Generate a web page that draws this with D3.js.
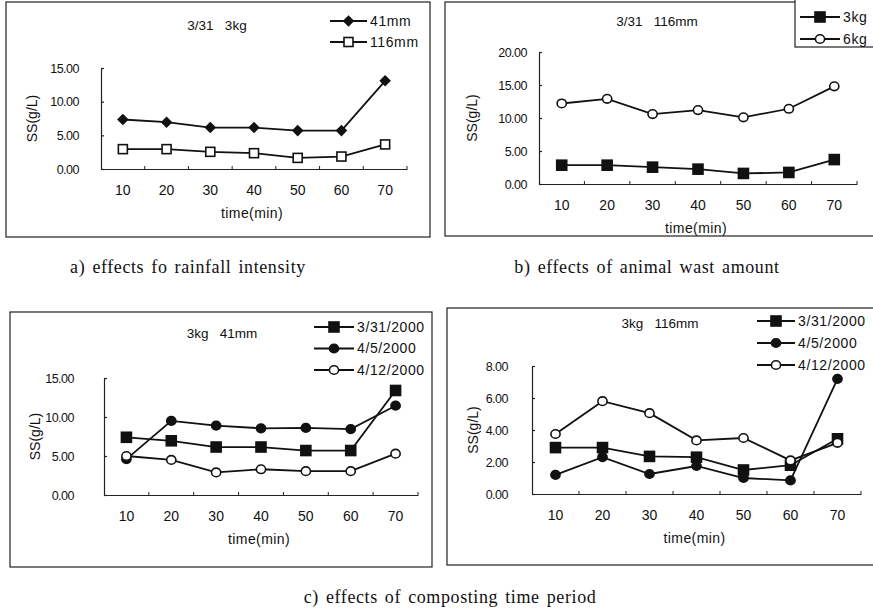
<!DOCTYPE html>
<html>
<head>
<meta charset="utf-8">
<script src="https://cdn.jsdelivr.net/npm/d3@7"></script>
<style>
  body { margin: 0; background: #fff; }
  svg { display: block; }
  text { fill: #111; }
</style>
</head>
<body>
<svg width="873" height="614"></svg>
<script>
// x categories (min)
var times = [10, 20, 30, 40, 50, 60, 70];

// a) 3/31 3kg
var a41mm  = [7.35, 6.95, 6.15, 6.15, 5.7, 5.7, 13.1];
var a116mm = [2.95, 2.95, 2.55, 2.35, 1.65, 1.85, 3.65];

// b) 3/31 116mm
var b3kg = [2.85, 2.85, 2.55, 2.25, 1.6, 1.75, 3.7];
var b6kg = [12.2, 12.9, 10.6, 11.2, 10.1, 11.4, 14.8];

// c) 3kg 41mm
var c0331 = [7.4, 6.95, 6.15, 6.15, 5.7, 5.7, 13.4];
var c0405 = [4.6, 9.5, 8.9, 8.55, 8.6, 8.45, 11.45];
var c0412 = [5.0, 4.5, 2.9, 3.3, 3.05, 3.05, 5.3];

// d) 3kg 116mm
var d0331 = [2.9, 2.9, 2.35, 2.3, 1.5, 1.8, 3.45];
var d0405 = [1.2, 2.3, 1.25, 1.75, 1.0, 0.85, 7.2];
var d0412 = [3.75, 5.8, 5.05, 3.35, 3.5, 2.1, 3.2];

// y tick values
var ticksA = [0, 5, 10, 15];
var ticksB = [0, 5, 10, 15, 20];
var ticksC = [0, 5, 10, 15];
var ticksD = [0, 2, 4, 6, 8];

// captions
var captionA = "a) effects fo rainfall intensity";
var captionB = "b) effects of animal wast amount";
var captionC = "c) effects of composting time period";

var svg = d3.select("svg");
var sans = "'Liberation Sans', Arial, sans-serif";
var serif = "'Liberation Serif', 'DejaVu Serif', serif";

// marker drawing
function marker(g, type, x, y) {
    if (type == "diamond") {
        g.append("path")
            .attr("d", d3.symbol().type(d3.symbolDiamond2).size(85)())
            .attr("transform", "translate(" + x + "," + y + ")")
            .attr("fill", "#111");
    } else if (type == "square" || type == "osquare") {
        var s = type == "square" ? 10 : 9;
        g.append("rect")
            .attr("x", x - s / 2).attr("y", y - s / 2)
            .attr("width", s).attr("height", s)
            .attr("fill", type == "square" ? "#111" : "#fff")
            .attr("stroke", "#111").attr("stroke-width", 1.6);
    } else if (type == "circle" || type == "ocircle") {
        g.append("ellipse")
            .attr("cx", x).attr("cy", y)
            .attr("rx", 4.6).attr("ry", 4.3)
            .attr("fill", type == "circle" ? "#111" : "#fff")
            .attr("stroke", "#111").attr("stroke-width", 1.6);
    }
}

function drawPanel(p) {
    var g = svg.append("g");

    // frame
    g.append("rect")
        .attr("x", p.box[0]).attr("y", p.box[1])
        .attr("width", p.box[2] - p.box[0]).attr("height", p.box[3] - p.box[1])
        .attr("fill", "none").attr("stroke", "#222").attr("stroke-width", 1.2);

    var x = d3.scaleBand().domain(times).range([p.x0, p.x1]).paddingInner(0);
    var y = d3.scaleLinear().domain([0, d3.max(p.ticks)]).range([p.y0, p.yTop]);

    // y axis
    var yAxis = g.append("g")
        .attr("transform", "translate(" + p.x0 + ",0)")
        .call(d3.axisLeft(y).tickValues(p.ticks).tickFormat(d3.format(".2f"))
            .tickSizeInner(-3).tickSizeOuter(0).tickPadding(p.labelGap));
    yAxis.selectAll("text").attr("font-family", sans).attr("font-size", 12.5)
        .attr("letter-spacing", -0.5).attr("fill", "#111");
    yAxis.selectAll("line, path").attr("stroke", "#222").attr("stroke-width", 1.2);

    // x axis
    var xAxis = g.append("g")
        .attr("transform", "translate(0," + p.y0 + ")")
        .call(d3.axisBottom(x).tickSize(0).tickSizeOuter(0).tickPadding(16));
    xAxis.selectAll("text").attr("font-family", sans).attr("font-size", 14).attr("fill", "#111");
    xAxis.select("path").attr("stroke", "#222").attr("stroke-width", 1.2);
    xAxis.selectAll(".bound")
        .data(times.slice(1).concat(["end"]))
        .enter().append("line")
        .attr("x1", function(d, i) { return p.x0 + x.bandwidth() * (i + 1); })
        .attr("x2", function(d, i) { return p.x0 + x.bandwidth() * (i + 1); })
        .attr("y1", 0).attr("y2", -3)
        .attr("stroke", "#222");

    // axis titles
    g.append("text")
        .attr("transform", "translate(" + p.yLabelX + "," + (p.y0 + p.yTop) / 2 + ") rotate(-90)")
        .attr("text-anchor", "middle").attr("dy", "0.35em")
        .attr("font-family", sans).attr("font-size", 14)
        .text("SS(g/L)");
    g.append("text")
        .attr("x", (p.x0 + p.x1) / 2 - 2).attr("y", p.y0 + 44)
        .attr("text-anchor", "middle").attr("dy", "0.35em")
        .attr("font-family", sans).attr("font-size", 14).attr("letter-spacing", 0.4)
        .text("time(min)");

    // chart title
    g.append("text")
        .attr("x", p.title[0]).attr("y", p.title[1])
        .attr("text-anchor", "middle").attr("dy", "0.35em")
        .attr("font-family", sans).attr("font-size", 13.5).attr("xml:space", "preserve")
        .text(p.title[2]);

    // series
    var line = d3.line()
        .x(function(d, i) { return x(times[i]) + x.bandwidth() / 2; })
        .y(function(d) { return y(d); });

    p.series.forEach(function(s) {
        g.append("path").datum(s.values)
            .attr("d", line)
            .attr("fill", "none").attr("stroke", "#111").attr("stroke-width", 1.8);
    });
    p.series.forEach(function(s) {
        s.values.forEach(function(v, i) {
            marker(g, s.type, x(times[i]) + x.bandwidth() / 2, y(v));
        });
    });

    // legend
    var L = p.legend;
    if (L.box) {
        g.append("rect")
            .attr("x", L.box[0]).attr("y", L.box[1])
            .attr("width", L.box[2] - L.box[0]).attr("height", L.box[3] - L.box[1])
            .attr("fill", "#fff").attr("stroke", "#222").attr("stroke-width", 1.2);
    }
    p.series.forEach(function(s, i) {
        var ly = L.y + i * L.step;
        g.append("line")
            .attr("x1", L.x).attr("x2", L.x + L.len)
            .attr("y1", ly).attr("y2", ly)
            .attr("stroke", "#111").attr("stroke-width", 1.8);
        marker(g, s.type, L.x + L.len / 2, ly);
        g.append("text")
            .attr("x", L.x + L.len + 3).attr("y", ly)
            .attr("dy", "0.35em")
            .attr("font-family", sans).attr("font-size", 14).attr("letter-spacing", 0.6)
            .text(s.name);
    });
}

drawPanel({
    box: [6, 2, 430, 237],
    x0: 101, x1: 407, y0: 169, yTop: 68, ticks: ticksA, labelGap: 22, yLabelX: 32,
    title: [217, 25, "3/31   3kg"],
    series: [
        { name: "41mm", values: a41mm, type: "diamond" },
        { name: "116mm", values: a116mm, type: "osquare" }
    ],
    legend: { x: 330, y: 21, step: 21, len: 37 }
});

drawPanel({
    box: [445, 2, 880, 236],
    x0: 539, x1: 857, y0: 184, yTop: 52, ticks: ticksB, labelGap: 12, yLabelX: 472,
    title: [657, 21, "3/31   116mm"],
    series: [
        { name: "3kg", values: b3kg, type: "square" },
        { name: "6kg", values: b6kg, type: "ocircle" }
    ],
    legend: { x: 800, y: 17, step: 22, len: 40, box: [795, -2, 880, 47] }
});

drawPanel({
    box: [10, 312, 432, 567],
    x0: 104, x1: 418, y0: 495, yTop: 378, ticks: ticksC, labelGap: 30, yLabelX: 35,
    title: [222, 333, "3kg   41mm"],
    series: [
        { name: "3/31/2000", values: c0331, type: "square" },
        { name: "4/5/2000", values: c0405, type: "circle" },
        { name: "4/12/2000", values: c0412, type: "ocircle" }
    ],
    legend: { x: 314, y: 327, step: 21.5, len: 40 }
});

drawPanel({
    box: [447, 308, 880, 565],
    x0: 532, x1: 861, y0: 494, yTop: 366, ticks: ticksD, labelGap: 24, yLabelX: 473,
    title: [660, 323, "3kg   116mm"],
    series: [
        { name: "3/31/2000", values: d0331, type: "square" },
        { name: "4/5/2000", values: d0405, type: "circle" },
        { name: "4/12/2000", values: d0412, type: "ocircle" }
    ],
    legend: { x: 757, y: 321, step: 22, len: 38 }
});

// captions
[[captionA, 188, 267], [captionB, 647, 267], [captionC, 450, 597]].forEach(function(c) {
    svg.append("text")
        .attr("x", c[1]).attr("y", c[2])
        .attr("text-anchor", "middle").attr("dy", "0.35em")
        .attr("font-family", serif).attr("font-size", 18).attr("letter-spacing", 0.6)
        .attr("word-spacing", 2)
        .text(c[0]);
});
</script>
</body>
</html>
